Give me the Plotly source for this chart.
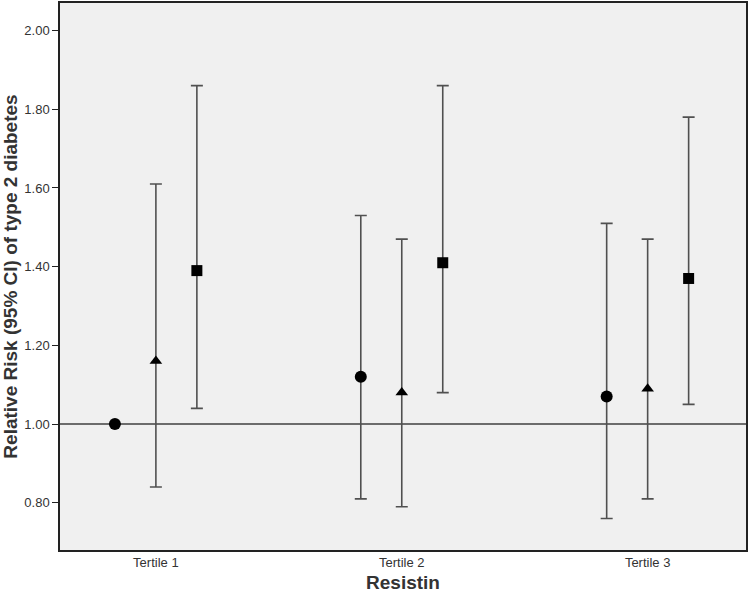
import plotly.graph_objects as go

# data
tertiles = ["Tertile 1", "Tertile 2", "Tertile 3"]

circle_rr = [1.00, 1.12, 1.07]
circle_lo = [1.00, 0.81, 0.76]
circle_hi = [1.00, 1.53, 1.51]

triangle_rr = [1.16, 1.08, 1.09]
triangle_lo = [0.84, 0.79, 0.81]
triangle_hi = [1.61, 1.47, 1.47]

square_rr = [1.39, 1.41, 1.37]
square_lo = [1.04, 1.08, 1.05]
square_hi = [1.86, 1.86, 1.78]

y_ticks = [0.80, 1.00, 1.20, 1.40, 1.60, 1.80, 2.00]

series = [
    ("circle", circle_rr, circle_lo, circle_hi, 12),
    ("triangle-up", triangle_rr, triangle_lo, triangle_hi, 11),
    ("square", square_rr, square_lo, square_hi, 11),
]

fig = go.Figure()

for i, (sym, rr, lo, hi, size) in enumerate(series):
    plus = [h - r for h, r in zip(hi, rr)]
    minus = [r - l for r, l in zip(rr, lo)]
    # reference group has no interval
    plus = [p if p > 0 else None for p in plus]
    minus = [m if m > 0 else None for m in minus]
    fig.add_trace(go.Scatter(
        x=tertiles, y=rr, mode="markers",
        offsetgroup=str(i), alignmentgroup="a",
        marker=dict(symbol=sym, size=size, color="black"),
        error_y=dict(type="data", symmetric=False, array=plus, arrayminus=minus,
                     color="#505050", thickness=1.6, width=6),
        showlegend=False,
    ))

fig.add_hline(y=1.0, line=dict(color="#404040", width=1.5), layer="below")

fig.update_layout(
    width=750, height=599,
    scattermode="group", scattergap=0.5,
    paper_bgcolor="white", plot_bgcolor="#f0f0f0",
    margin=dict(l=60, r=4, t=3, b=49),
    font=dict(family="Liberation Sans, Arial, sans-serif", color="#333"),
    xaxis=dict(
        type="category", range=[-0.39, 2.4], automargin=False,
        showline=True, linecolor="#222", linewidth=1.5, mirror=True,
        showgrid=False, ticks="", tickfont=dict(size=13, color="#333"),
        title=dict(text="<b>Resistin</b>", font=dict(size=19, color="#333"), standoff=6),
    ),
    yaxis=dict(
        range=[0.68, 2.07], tickvals=y_ticks, tickformat=".2f", automargin=False,
        showline=True, linecolor="#222", linewidth=1.5, mirror=True,
        showgrid=False, zeroline=False, ticks="outside", ticklen=6, tickcolor="#222",
        tickfont=dict(size=13, color="#333"),
        title=dict(text="<b>Relative Risk (95% CI) of type 2 diabetes</b>",
                   font=dict(size=19, color="#333"), standoff=6),
    ),
)

# drop the default page margin so the figure sits at the window corner
fig.write_html("out.html", config={"displayModeBar": False},
               post_script="document.body.style.margin='0';")
